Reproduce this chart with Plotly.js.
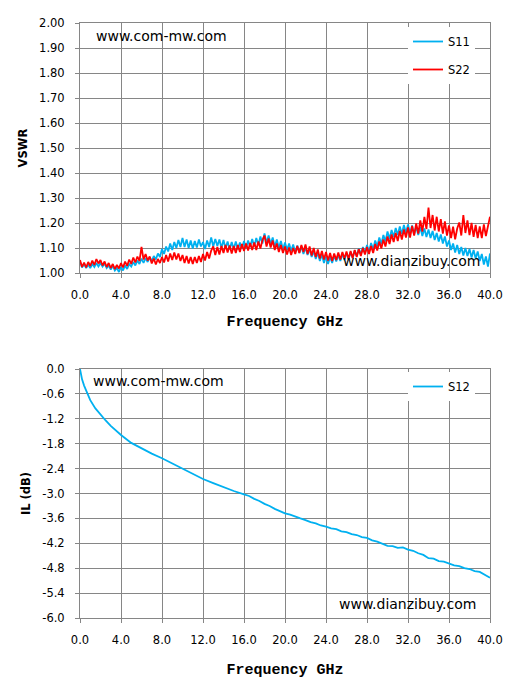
<!DOCTYPE html>
<html>
<head>
<meta charset="utf-8">
<script src="https://cdn.plot.ly/plotly-3.0.1.min.js"></script>
<style>
html,body{margin:0;padding:0;background:#fff;}
#chart{width:508px;height:687px;}
</style>
</head>
<body>
<div id="chart"></div>
<script>
// ---- Data ----
// VSWR traces sampled every 0.2 GHz from 0.0 to 40.0 GHz
const vswrStartGHz = 0.0;
const vswrStepGHz = 0.2;

const s11 = [
  1.045, 1.022, 1.036, 1.020, 1.034,
  1.020, 1.036, 1.024, 1.040, 1.026,
  1.040, 1.026, 1.038, 1.020, 1.030,
  1.014, 1.028, 1.010, 1.020, 1.004,
  1.024, 1.010, 1.030, 1.016, 1.036,
  1.026, 1.044, 1.030, 1.050, 1.036,
  1.058, 1.040, 1.060, 1.044, 1.062,
  1.048, 1.068, 1.054, 1.078, 1.064,
  1.096, 1.076, 1.106, 1.086, 1.118,
  1.092, 1.124, 1.100, 1.132, 1.104,
  1.140, 1.104, 1.134, 1.100, 1.130,
  1.098, 1.128, 1.102, 1.134, 1.106,
  1.124, 1.096, 1.130, 1.104, 1.142,
  1.106, 1.136, 1.108, 1.134, 1.100,
  1.132, 1.098, 1.126, 1.094, 1.124,
  1.096, 1.126, 1.094, 1.122, 1.098,
  1.128, 1.100, 1.130, 1.104, 1.136,
  1.106, 1.140, 1.112, 1.146, 1.118,
  1.158, 1.120, 1.150, 1.116, 1.142,
  1.104, 1.134, 1.100, 1.128, 1.094,
  1.122, 1.092, 1.118, 1.088, 1.114,
  1.082, 1.110, 1.080, 1.106, 1.076,
  1.102, 1.072, 1.096, 1.064, 1.088,
  1.056, 1.082, 1.048, 1.074, 1.040,
  1.066, 1.036, 1.064, 1.040, 1.070,
  1.046, 1.072, 1.048, 1.076, 1.052,
  1.080, 1.056, 1.084, 1.060, 1.090,
  1.068, 1.098, 1.074, 1.104, 1.080,
  1.112, 1.086, 1.120, 1.094, 1.130,
  1.106, 1.142, 1.116, 1.152, 1.126,
  1.166, 1.136, 1.172, 1.144, 1.180,
  1.152, 1.186, 1.156, 1.192, 1.160,
  1.194, 1.158, 1.190, 1.154, 1.186,
  1.152, 1.184, 1.148, 1.178, 1.144,
  1.174, 1.140, 1.168, 1.132, 1.160,
  1.126, 1.154, 1.118, 1.146, 1.106,
  1.130, 1.092, 1.118, 1.082, 1.112,
  1.076, 1.104, 1.070, 1.100, 1.068,
  1.096, 1.062, 1.092, 1.058, 1.086,
  1.048, 1.076, 1.034, 1.066, 1.026,
  1.078
];

const s22 = [
  1.052, 1.024, 1.042, 1.022, 1.044,
  1.028, 1.050, 1.032, 1.056, 1.038,
  1.052, 1.030, 1.046, 1.024, 1.040,
  1.020, 1.036, 1.016, 1.032, 1.018,
  1.040, 1.022, 1.046, 1.028, 1.054,
  1.036, 1.062, 1.042, 1.066, 1.048,
  1.104, 1.054, 1.076, 1.050, 1.066,
  1.038, 1.058, 1.034, 1.056, 1.040,
  1.064, 1.042, 1.072, 1.046, 1.078,
  1.052, 1.082, 1.054, 1.078, 1.048,
  1.072, 1.040, 1.068, 1.038, 1.064,
  1.036, 1.064, 1.040, 1.068, 1.044,
  1.076, 1.050, 1.084, 1.058, 1.090,
  1.106, 1.072, 1.104, 1.074, 1.108,
  1.080, 1.112, 1.082, 1.110, 1.078,
  1.108, 1.080, 1.112, 1.084, 1.116,
  1.088, 1.118, 1.090, 1.120, 1.092,
  1.122, 1.092, 1.126, 1.098, 1.132,
  1.150, 1.106, 1.138, 1.102, 1.130,
  1.092, 1.118, 1.084, 1.112, 1.080,
  1.106, 1.074, 1.102, 1.072, 1.100,
  1.076, 1.108, 1.080, 1.112, 1.084,
  1.114, 1.076, 1.106, 1.070, 1.100,
  1.064, 1.094, 1.058, 1.088, 1.054,
  1.084, 1.050, 1.080, 1.048, 1.078,
  1.052, 1.082, 1.054, 1.084, 1.058,
  1.086, 1.056, 1.088, 1.060, 1.092,
  1.064, 1.096, 1.068, 1.100, 1.074,
  1.104, 1.076, 1.108, 1.080, 1.116,
  1.090, 1.126, 1.098, 1.134, 1.106,
  1.146, 1.116, 1.154, 1.124, 1.160,
  1.128, 1.168, 1.134, 1.174, 1.142,
  1.182, 1.142, 1.188, 1.150, 1.198,
  1.158, 1.210, 1.166, 1.224, 1.176,
  1.262, 1.180, 1.232, 1.170, 1.225,
  1.166, 1.215, 1.158, 1.206, 1.150,
  1.190, 1.140, 1.185, 1.135, 1.178,
  1.202, 1.150, 1.232, 1.160, 1.210,
  1.152, 1.200, 1.145, 1.192, 1.140,
  1.186, 1.140, 1.194, 1.148, 1.190,
  1.225
];

// Insertion loss S12
const ilFreq = [
  0, 0.1, 0.2, 0.4, 0.6, 0.8, 1.0, 1.5, 2.0, 2.5, 3.0, 3.5, 4, 5, 6, 7, 8, 9, 10, 11, 12, 13, 14, 15, 16,
  16.5, 17, 17.5, 18, 18.5, 19, 19.5, 20, 20.5, 21, 21.5, 22, 22.5, 23, 23.5, 24, 24.5, 25, 25.5, 26,
  26.5, 27, 27.5, 28, 28.5, 29, 29.5, 30, 30.5, 31, 31.5, 32, 32.5, 33, 33.5, 34, 34.5, 35, 35.5, 36,
  36.5, 37, 37.5, 38, 38.5, 39, 39.5, 40
];
const s12 = [
  0, -0.15, -0.25, -0.40, -0.53, -0.65, -0.75, -0.95, -1.10, -1.24, -1.37, -1.48, -1.59, -1.78, -1.92, -2.04, -2.15, -2.28, -2.40, -2.53, -2.65, -2.75, -2.85, -2.94, -3.02,
  -3.06, -3.13, -3.18, -3.25, -3.30, -3.37, -3.42, -3.48, -3.51, -3.56, -3.60, -3.64, -3.69, -3.72, -3.77, -3.80, -3.84, -3.86, -3.91, -3.93,
  -3.98, -4.00, -4.05, -4.07, -4.13, -4.16, -4.22, -4.26, -4.27, -4.31, -4.30, -4.35, -4.38, -4.44, -4.48, -4.56, -4.57, -4.63, -4.64, -4.68,
  -4.73, -4.75, -4.80, -4.82, -4.87, -4.89, -4.95, -5.03
];

// Tick labels
const xTickVals = [0, 4, 8, 12, 16, 20, 24, 28, 32, 36, 40];
const xTickText = ["0.0", "4.0", "8.0", "12.0", "16.0", "20.0", "24.0", "28.0", "32.0", "36.0", "40.0"];
const vswrTickVals = [1.0, 1.1, 1.2, 1.3, 1.4, 1.5, 1.6, 1.7, 1.8, 1.9, 2.0];
const vswrTickText = ["1.00", "1.10", "1.20", "1.30", "1.40", "1.50", "1.60", "1.70", "1.80", "1.90", "2.00"];
const ilTickVals = [-6.0, -5.4, -4.8, -4.2, -3.6, -3.0, -2.4, -1.8, -1.2, -0.6, 0.0];
const ilTickText = ["-6.0", "-5.4", "-4.8", "-4.2", "-3.6", "-3.0", "-2.4", "-1.8", "-1.2", "-0.6", "0.0"];

// ---- Build ----
const vswrFreq = s11.map((_, i) => +(vswrStartGHz + i * vswrStepGHz).toFixed(1));

const BLUE = "#00B0F0";
const RED = "#FF0000";
const GRID = "#868686";
const tickFont = {family: "DejaVu Sans", size: 11.5, color: "#000"};

const traces = [
  {x: vswrFreq, y: s11, name: "S11", type: "scatter", mode: "lines",
   line: {color: BLUE, width: 1.8}, xaxis: "x", yaxis: "y", legend: "legend", legendgroup: "a"},
  {x: vswrFreq, y: s22, name: "S22", type: "scatter", mode: "lines",
   line: {color: RED, width: 1.8}, xaxis: "x", yaxis: "y", legend: "legend", legendgroup: "b"},
  {x: ilFreq, y: s12, name: "S12", type: "scatter", mode: "lines",
   line: {color: BLUE, width: 1.8}, xaxis: "x2", yaxis: "y2", legend: "legend2"}
];

// plot area in pixels: left 80, right 490, top 23, bottom 618
const PT = 23, PB = 618, PL = 80, PR = 490;
const H = PB - PT, W = PR - PL;
const py = v => (PB - v) / H;   // pixel y -> paper
const px = v => (v - PL) / W;   // pixel x -> paper

function xAxis(anchor, standoff) {
  return {
    range: [0, 40], tickmode: "array", tickvals: xTickVals, ticktext: xTickText,
    showgrid: true, gridcolor: GRID, gridwidth: 1, zeroline: false,
    showline: true, linecolor: GRID, linewidth: 1, mirror: true,
    ticks: "outside", ticklen: 4, tickcolor: GRID, tickfont: tickFont,
    ticklabelstandoff: 7, anchor: anchor, fixedrange: true,
    title: {text: "<b>Frequency GHz</b>", font: {family: "Liberation Mono", size: 15, color: "#000"}, standoff: standoff}
  };
}
function yAxis(anchor, domain, range, vals, text, title) {
  return {
    domain: domain, range: range, tickmode: "array", tickvals: vals, ticktext: text,
    showgrid: true, gridcolor: GRID, gridwidth: 1, zeroline: false,
    showline: true, linecolor: GRID, linewidth: 1, mirror: true,
    ticks: "outside", ticklen: 4, tickcolor: GRID, tickfont: tickFont,
    ticklabelstandoff: 8, anchor: anchor, fixedrange: true,
    title: {text: title, font: {family: "DejaVu Sans", size: 11.5, color: "#000"}, standoff: 9}
  };
}

const wmFont = {family: "DejaVu Sans", size: 14, color: "#000"};
function mark(text, x, y) {
  return {text: text, x: px(x), y: py(y), xref: "paper", yref: "paper",
          xanchor: "center", yanchor: "middle", showarrow: false, font: wmFont};
}

const layout = {
  width: 508, height: 687,
  margin: {l: PL, r: 508 - PR, t: PT, b: 687 - PB, pad: 0},
  paper_bgcolor: "#fff", plot_bgcolor: "#fff",
  showlegend: true,
  xaxis: xAxis("y", 14),
  yaxis: yAxis("x", [py(273), 1], [1.0, 2.0], vswrTickVals, vswrTickText, "<b>VSWR</b>"),
  xaxis2: xAxis("y2", 17),
  yaxis2: yAxis("x2", [0, py(369)], [-6.0, 0.0], ilTickVals, ilTickText, "<b>IL (dB)</b>"),
  legend: {x: px(408), y: py(27), xanchor: "left", yanchor: "top", bgcolor: "#fff",
           borderwidth: 0, font: {family: "DejaVu Sans", size: 11.5, color: "#000"},
           traceorder: "grouped", tracegroupgap: 9},
  legend2: {x: px(408), y: py(372), xanchor: "left", yanchor: "top", bgcolor: "#fff",
           borderwidth: 0, font: {family: "DejaVu Sans", size: 11.5, color: "#000"}},
  annotations: [
    mark("www.com-mw.com", 161, 36),
    mark("www.dianzibuy.com", 411, 261),
    mark("www.com-mw.com", 158, 381),
    mark("www.dianzibuy.com", 407, 604)
  ]
};

Plotly.newPlot("chart", traces, layout, {displayModeBar: false, staticPlot: true});
</script>
</body>
</html>
